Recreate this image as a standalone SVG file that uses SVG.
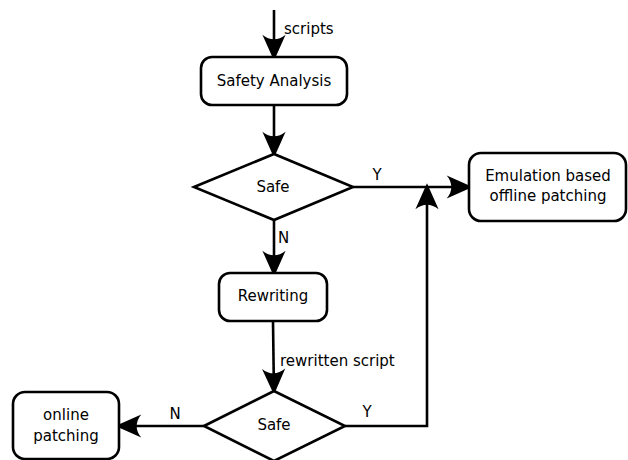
<svg xmlns="http://www.w3.org/2000/svg" width="628" height="460" viewBox="0 0 628 460">
  <style>
    .box { fill: #ffffff; stroke: #000000; stroke-width: 2.6; }
    .edge { fill: none; stroke: #000000; stroke-width: 2.6; }
    text { font-family: "DejaVu Sans", "Liberation Sans", sans-serif; font-size: 15px; fill: #000000; }
    .c { text-anchor: middle; }
  </style>
  <defs>
    <marker id="arrow" markerUnits="userSpaceOnUse" orient="auto" refX="0" refY="0"
            markerWidth="30" markerHeight="30" viewBox="-10 -10 22 20" overflow="visible">
      <path d="M10,0 L-9,-8.5 C-4.5,-3 -4.5,3 -9,8.5 Z" fill="#000000"/>
    </marker>
  </defs>
  <rect width="628" height="460" fill="#ffffff"/>

  <!-- connectors -->
  <g id="connectors">
    <path class="edge" d="M274,10 L274,47" marker-end="url(#arrow)"/>
    <path class="edge" d="M274,105 L274,144" marker-end="url(#arrow)"/>
    <path class="edge" d="M353,187 L459,187" marker-end="url(#arrow)"/>
    <path class="edge" d="M274,220 L274,263" marker-end="url(#arrow)"/>
    <path class="edge" d="M273,321 L273.8,381" marker-end="url(#arrow)"/>
    <path class="edge" d="M345,426 L427,426 L427,197" marker-end="url(#arrow)"/>
    <path class="edge" d="M204,426 L129,426" marker-end="url(#arrow)"/>
    <text x="284" y="34">scripts</text>
    <text x="377" y="180" class="c">Y</text>
    <text x="278" y="243">N</text>
    <text x="280" y="366">rewritten script</text>
    <text x="367" y="416.5" class="c">Y</text>
    <text x="175" y="419" class="c">N</text>
  </g>

  <g id="safety-analysis">
    <rect class="box" x="201" y="57" width="146" height="48" rx="11"/>
    <text x="274" y="86" class="c">Safety Analysis</text>
  </g>

  <g id="safe-check-1">
    <polygon class="box" points="194,187 274,154 353,187 274,220"/>
    <text x="273" y="192" class="c">Safe</text>
  </g>

  <g id="offline-patching">
    <rect class="box" x="469" y="153" width="157" height="68" rx="12"/>
    <text x="548" y="180.5" class="c">Emulation based</text>
    <text x="548" y="200.5" class="c">offline patching</text>
  </g>

  <g id="rewriting">
    <rect class="box" x="219" y="273" width="108" height="48" rx="11"/>
    <text x="273" y="300.5" class="c">Rewriting</text>
  </g>

  <g id="safe-check-2">
    <polygon class="box" points="204,426 274,391 345,426 274,461"/>
    <text x="274" y="430" class="c">Safe</text>
  </g>

  <g id="online-patching">
    <rect class="box" x="13" y="392" width="106" height="67" rx="12"/>
    <text x="66" y="419.5" class="c">online</text>
    <text x="66" y="441" class="c">patching</text>
  </g>
</svg>
